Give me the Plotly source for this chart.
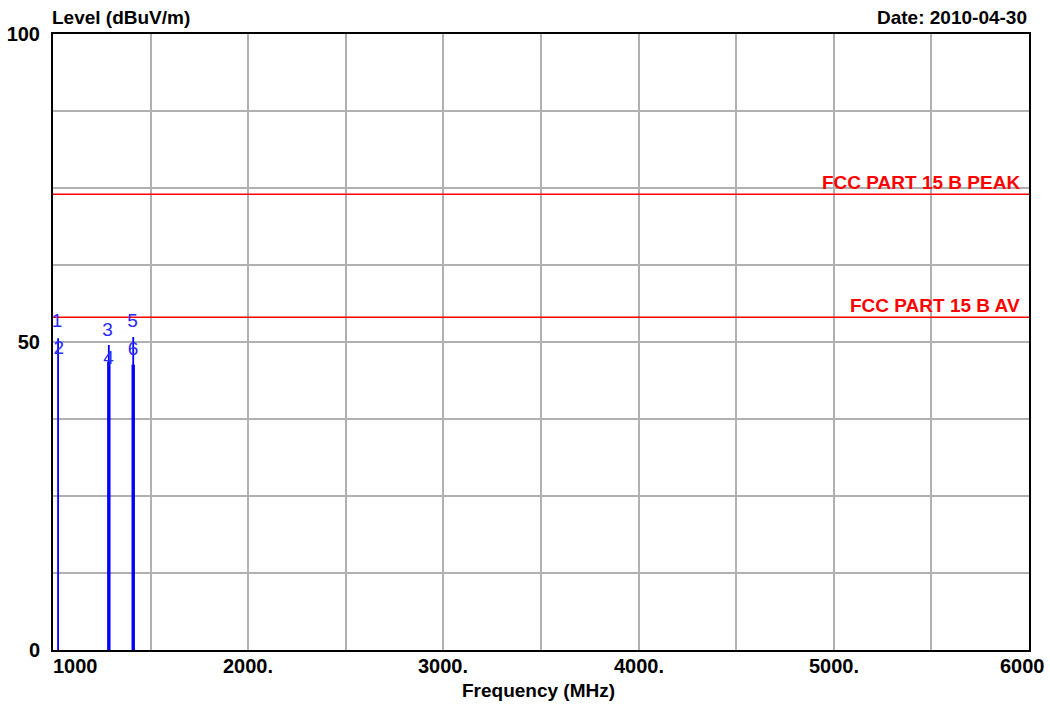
import plotly.graph_objects as go

# ---------------- data ----------------
spike_freq = [1026, 1286, 1411]          # MHz
spike_top = [50.6, 49.5, 50.8]           # dBuV/m (thin trace top)
spike_bulk = [0.0, 46.8, 46.3]           # level up to which trace is dense/thick

marker_labels = ["1", "2", "3", "4", "5", "6"]
marker_freq = [1020, 1030, 1280, 1285, 1407, 1410]
marker_level = [53.2, 48.9, 51.7, 47.2, 53.2, 48.7]

limit_names = ["FCC PART 15 B PEAK", "FCC PART 15 B AV"]
limit_levels = [74, 54]

x_grid = [1000, 1500, 2000, 2500, 3000, 3500, 4000, 4500, 5000, 5500, 6000]
x_tick_vals = [1000, 2000, 3000, 4000, 5000, 6000]
x_tick_text = ["1000", "2000.", "3000.", "4000.", "5000.", "6000"]
y_grid = [0, 12.5, 25, 37.5, 50, 62.5, 75, 87.5, 100]
y_tick_text = ["0", "", "", "", "50", "", "", "", "100"]

FONT = "Liberation Sans, Arial, sans-serif"
BLUE = "#0000ff"
RED = "#ff0000"

fig = go.Figure()

# limit lines
for lvl in limit_levels:
    fig.add_trace(go.Scatter(x=[1000, 6000], y=[lvl, lvl], mode="lines",
                             line=dict(color=RED, width=1.5),
                             hoverinfo="skip", showlegend=False))

# thin spike traces
xs, ys = [], []
for f, t in zip(spike_freq, spike_top):
    xs += [f, f, None]
    ys += [0, t, None]
fig.add_trace(go.Scatter(x=xs, y=ys, mode="lines",
                         line=dict(color=BLUE, width=1.8),
                         hoverinfo="skip", showlegend=False))
# thick (dense) parts
xs, ys = [], []
for f, b in zip(spike_freq, spike_bulk):
    if b > 0:
        xs += [f, f, None]
        ys += [0, b, None]
fig.add_trace(go.Scatter(x=xs, y=ys, mode="lines",
                         line=dict(color=BLUE, width=3.4),
                         hoverinfo="skip", showlegend=False))

# marker labels
fig.add_trace(go.Scatter(x=marker_freq, y=marker_level, mode="text",
                         text=marker_labels,
                         textfont=dict(family=FONT, size=19, color="#2a2aff"),
                         hoverinfo="skip", showlegend=False))

annotations = []
# limit line labels
for name, lvl in zip(limit_names, limit_levels):
    annotations.append(dict(x=1, xref="paper", y=lvl, yref="y", text=name,
                            xanchor="right", yanchor="bottom", showarrow=False,
                            xshift=-7, yshift=-1,
                            font=dict(family=FONT, size=19, color=RED, weight="bold")))

# x tick labels
for i, (v, t) in enumerate(zip(x_tick_vals, x_tick_text)):
    anchor = "center"
    shift = 0
    if i == 0:
        anchor = "left"
        shift = -2
    elif i == len(x_tick_vals) - 1:
        shift = -7
    annotations.append(dict(x=v, xref="x", y=0, yref="paper", text=t,
                            xanchor=anchor, yanchor="top", showarrow=False,
                            xshift=shift, yshift=-3,
                            font=dict(family=FONT, size=20, color="black", weight="bold")))

# titles
annotations.append(dict(x=0, xref="paper", y=1, yref="paper", text="Level (dBuV/m)",
                        xanchor="left", yanchor="bottom", showarrow=False,
                        xshift=-3, yshift=4,
                        font=dict(family=FONT, size=19, color="black", weight="bold")))
annotations.append(dict(x=1, xref="paper", y=1, yref="paper", text="Date: 2010-04-30",
                        xanchor="right", yanchor="bottom", showarrow=False,
                        xshift=0, yshift=4,
                        font=dict(family=FONT, size=19, color="black", weight="bold")))
annotations.append(dict(x=0.5, xref="paper", y=0, yref="paper", text="Frequency (MHz)",
                        xanchor="center", yanchor="top", showarrow=False,
                        xshift=-3, yshift=-28,
                        font=dict(family=FONT, size=19, color="black", weight="bold")))

fig.update_layout(
    width=1050, height=705,
    margin=dict(l=53, r=21, t=34, b=55),
    paper_bgcolor="white", plot_bgcolor="white",
    annotations=annotations,
    showlegend=False,
)
fig.update_xaxes(range=[1000, 6000], tickvals=x_grid, showticklabels=False,
                 showgrid=True, gridcolor="#b0b0b0", gridwidth=2,
                 showline=True, linecolor="black", linewidth=2, mirror=True,
                 zeroline=False, ticks="", automargin=False)
fig.update_yaxes(range=[0, 100], tickvals=y_grid, ticktext=y_tick_text,
                 showgrid=True, gridcolor="#b0b0b0", gridwidth=2,
                 showline=True, linecolor="black", linewidth=2, mirror=True,
                 zeroline=False, ticks="", ticklabelstandoff=7, automargin=False,
                 tickfont=dict(family=FONT, size=20, color="black", weight="bold"))

fig.write_html("out.html", config={"displayModeBar": False},
               post_script="document.body.style.margin='0px';document.body.style.overflow='hidden';")
